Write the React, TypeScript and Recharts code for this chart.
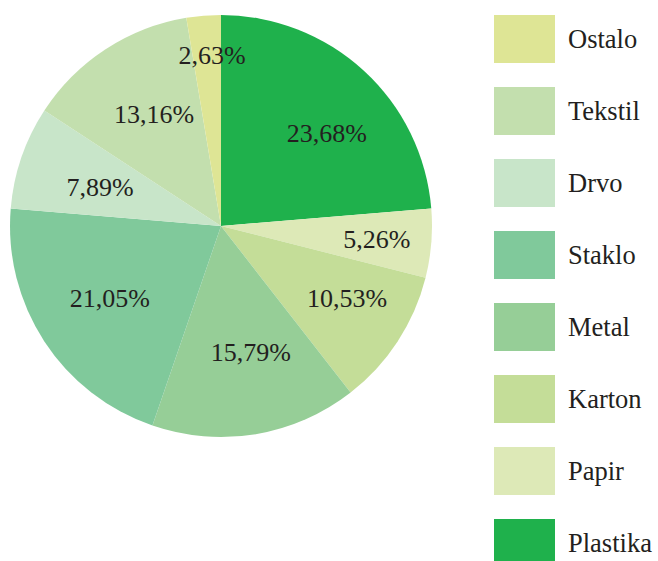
import React from "react";
import { PieChart, Pie, Cell } from "recharts";

const categories = ["Plastika", "Papir", "Karton", "Metal", "Staklo", "Drvo", "Tekstil", "Ostalo"];
const values = [23.68, 5.26, 10.53, 15.79, 21.05, 7.89, 13.16, 2.63];
const valueLabels = ["23,68%", "5,26%", "10,53%", "15,79%", "21,05%", "7,89%", "13,16%", "2,63%"];
const colors = ["#1FB14C", "#DDE9B7", "#C4DD98", "#96CE97", "#80C99B", "#C8E5C9", "#C3DFAE", "#DEE595"];
// label placement: fraction of radius and clockwise angle shift (degrees) from slice middle
const labelRadiusFactors = [0.665, 0.742, 0.69, 0.614, 0.63, 0.601, 0.615, 0.807];
const labelAngleShift = [6.4, 0.4, -3.1, -3.9, -0.1, -1.5, 2.1, 1.7];

const data = categories.map((name, i) => ({ name, value: values[i], label: valueLabels[i] }));

const FONT = '"Liberation Serif", "Times New Roman", serif';
const RADIAN = Math.PI / 180;

const renderLabel = (props: any) => {
  const { cx, cy, midAngle, outerRadius, index } = props;
  const r = outerRadius * labelRadiusFactors[index];
  const a = midAngle - labelAngleShift[index];
  const x = cx + r * Math.cos(-a * RADIAN);
  const y = cy + r * Math.sin(-a * RADIAN);
  return (
    <text x={x} y={y} fill="#231F20" fontFamily={FONT} fontSize={26} textAnchor="middle" dominantBaseline="central">
      {valueLabels[index]}
    </text>
  );
};

const LegendBlock = () => {
  const items = categories.map((c, i) => ({ name: c, color: colors[i] })).reverse();
  return (
    <div style={{ position: "absolute", left: 494, top: 15, display: "flex", flexDirection: "column" }}>
      {items.map((it) => (
        <div key={it.name} style={{ display: "flex", alignItems: "center", height: 48, marginBottom: 24 }}>
          <div style={{ width: 61, height: 48, background: it.color }} />
          <span style={{ marginLeft: 13, fontFamily: FONT, fontSize: 26.5, color: "#231F20", lineHeight: "48px" }}>
            {it.name}
          </span>
        </div>
      ))}
    </div>
  );
};

export default function App() {
  return (
    <div style={{ position: "absolute", left: 0, top: 0, width: 658, height: 561, background: "#fff" }}>
      <PieChart width={658} height={561} margin={{ top: 0, right: 0, bottom: 0, left: 0 }}>
        <Pie
          data={data}
          dataKey="value"
          nameKey="name"
          cx={221}
          cy={226}
          outerRadius={211}
          startAngle={90}
          endAngle={-270}
          stroke="none"
          label={renderLabel}
          labelLine={false}
          isAnimationActive={false}
        >
          {data.map((d, i) => (
            <Cell key={d.name} fill={colors[i]} />
          ))}
        </Pie>
      </PieChart>
      <LegendBlock />
    </div>
  );
}
